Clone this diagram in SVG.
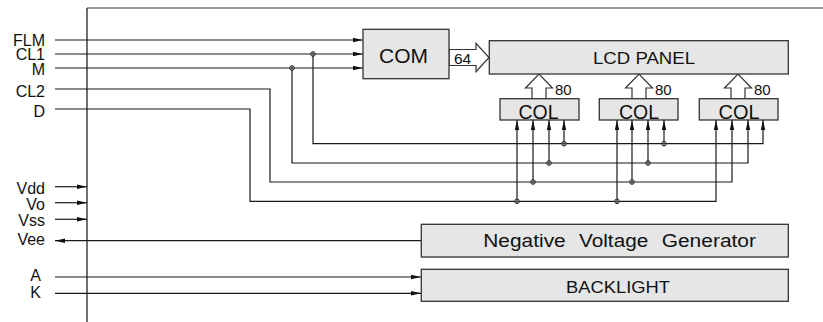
<svg xmlns="http://www.w3.org/2000/svg" xmlns:xlink="http://www.w3.org/1999/xlink" width="823" height="322" viewBox="0 0 823 322">
<style>
text{font-family:"Liberation Sans",Arial,sans-serif;fill:#111}
.box{fill:#e6e6e6;stroke:#333;stroke-width:1.3}
.w{fill:none;stroke:#1a1a1a;stroke-width:1.2}
.ar{marker-end:url(#ah)}
.hol{fill:#fff;stroke:#333;stroke-width:1.2;stroke-linejoin:miter}
.lbl{font-size:16px;text-anchor:end}
</style>
<defs>
<marker id="ah" markerUnits="userSpaceOnUse" markerWidth="10" markerHeight="5" refX="10" refY="2.5" orient="auto">
<path d="M0,0.3 L10,2.5 L0,4.7 z" fill="#111"/>
</marker>
<g id="j"><circle r="2.3" fill="#fff" stroke="#222" stroke-width="1"/><path d="M-2.3,0H2.3M0,-2.3V2.3" stroke="#222" stroke-width="1"/></g>
</defs>

<g id="frame">
<line x1="87" y1="8" x2="823" y2="8" stroke="#777" stroke-width="1.6"/>
<line x1="87" y1="8" x2="87" y2="322" stroke="#111" stroke-width="1.2"/>
</g>

<g id="labels">
<text class="lbl" x="45" y="45.5">FLM</text>
<text class="lbl" x="45" y="60">CL1</text>
<text class="lbl" x="45" y="75">M</text>
<text class="lbl" x="45" y="97">CL2</text>
<text class="lbl" x="45" y="116.5">D</text>
<text class="lbl" x="45" y="194">Vdd</text>
<text class="lbl" x="45" y="210">Vo</text>
<text class="lbl" x="45" y="226">Vss</text>
<text class="lbl" x="45" y="245">Vee</text>
<text class="lbl" x="41" y="281">A</text>
<text class="lbl" x="41" y="298">K</text>
</g>

<g id="connectors">
<line class="w ar" x1="55" y1="40" x2="363" y2="40"/>
<line class="w ar" x1="55" y1="54" x2="363" y2="54"/>
<line class="w ar" x1="55" y1="68" x2="363" y2="68"/>
<path class="w ar" d="M313,54 V143.7 H763 V120"/>
<path class="w ar" d="M292,68 V163 H748 V120"/>
<path class="w ar" d="M55,89 H270 V182 H732 V120"/>
<path class="w ar" d="M55,109 H250 V201.3 H716 V120"/>
<line class="w ar" x1="517" y1="201.3" x2="517" y2="120"/>
<line class="w ar" x1="533" y1="182" x2="533" y2="120"/>
<line class="w ar" x1="549" y1="163" x2="549" y2="120"/>
<line class="w ar" x1="564" y1="143.7" x2="564" y2="120"/>
<line class="w ar" x1="617" y1="201.3" x2="617" y2="120"/>
<line class="w ar" x1="632" y1="182" x2="632" y2="120"/>
<line class="w ar" x1="648" y1="163" x2="648" y2="120"/>
<line class="w ar" x1="664" y1="143.7" x2="664" y2="120"/>
<line class="w ar" x1="55" y1="186.7" x2="87" y2="186.7"/>
<line class="w ar" x1="55" y1="202.7" x2="87" y2="202.7"/>
<line class="w ar" x1="55" y1="219.3" x2="87" y2="219.3"/>
<line class="w ar" x1="421" y1="240.7" x2="55" y2="240.7"/>
<line class="w ar" x1="55" y1="277" x2="421" y2="277"/>
<line class="w ar" x1="55" y1="293.3" x2="421" y2="293.3"/>
<use href="#j" x="313" y="54"/>
<use href="#j" x="292" y="68"/>
<use href="#j" x="517" y="201.3"/>
<use href="#j" x="533" y="182"/>
<use href="#j" x="549" y="163"/>
<use href="#j" x="564" y="143.7"/>
<use href="#j" x="617" y="201.3"/>
<use href="#j" x="632" y="182"/>
<use href="#j" x="648" y="163"/>
<use href="#j" x="664" y="143.7"/>
<polygon class="hol" points="449,49.5 476,49.5 476,43.3 489,57.5 476,71.7 476,65.5 449,65.5"/>
<text x="454" y="63.5" font-size="15.5">64</text>
<polygon class="hol" points="532,99 532,88 525.5,88 539,74 552.5,88 546,88 546,99"/>
<polygon class="hol" points="632,99 632,88 625.5,88 639,74 652.5,88 646,88 646,99"/>
<polygon class="hol" points="731,99 731,88 724.5,88 738,74 751.5,88 745,88 745,99"/>
<text x="555" y="95" font-size="15">80</text>
<text x="655" y="95" font-size="15">80</text>
<text x="754" y="95" font-size="15">80</text>
</g>

<g id="com">
<rect class="box" x="363" y="29.3" width="86" height="49.4"/>
<text x="403.5" y="63" font-size="21" text-anchor="middle">COM</text>
</g>

<g id="lcd-panel">
<rect class="box" x="489.3" y="40.7" width="299" height="33.3"/>
<text x="593" y="64.3" font-size="16.5" textLength="102" lengthAdjust="spacingAndGlyphs">LCD PANEL</text>
</g>

<g id="col1">
<rect class="box" x="500" y="98.7" width="79" height="21.3"/>
<text x="518.5" y="118.5" font-size="21" textLength="40" lengthAdjust="spacingAndGlyphs">COL</text>
</g>
<g id="col2">
<rect class="box" x="599.3" y="98.7" width="78.7" height="21.3"/>
<text x="619" y="118.5" font-size="21" textLength="40" lengthAdjust="spacingAndGlyphs">COL</text>
</g>
<g id="col3">
<rect class="box" x="699.3" y="98.7" width="78.7" height="21.3"/>
<text x="718.5" y="118.5" font-size="21" textLength="41" lengthAdjust="spacingAndGlyphs">COL</text>
</g>

<g id="negative-voltage-generator">
<rect class="box" x="421.3" y="224.3" width="367" height="32.7"/>
<text y="246.7" font-size="17.5"><tspan x="483.3" textLength="82.4" lengthAdjust="spacingAndGlyphs">Negative</tspan><tspan x="579" textLength="69.3" lengthAdjust="spacingAndGlyphs">Voltage</tspan><tspan x="661.7" textLength="94.3" lengthAdjust="spacingAndGlyphs">Generator</tspan></text>
</g>

<g id="backlight">
<rect class="box" x="421.3" y="269.3" width="367" height="32"/>
<text x="566" y="293.3" font-size="16.5" textLength="104" lengthAdjust="spacingAndGlyphs">BACKLIGHT</text>
</g>
</svg>
